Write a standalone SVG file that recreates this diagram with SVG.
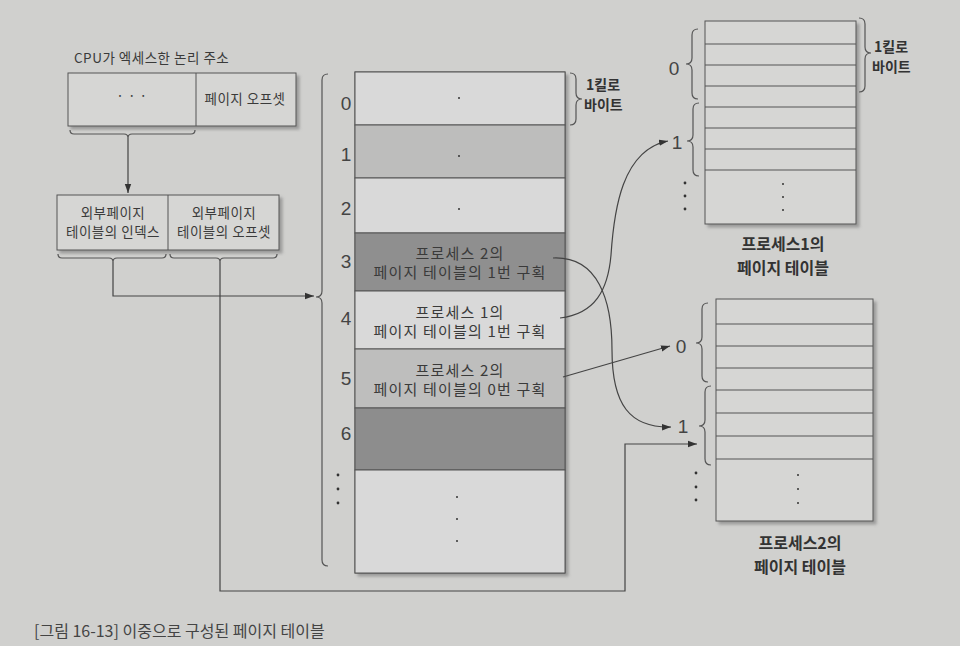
<svg xmlns="http://www.w3.org/2000/svg" width="960" height="646" viewBox="0 0 960 646">
<defs>
<marker id="ah" markerWidth="10" markerHeight="8" refX="9" refY="4" orient="auto" markerUnits="userSpaceOnUse">
<path d="M0,0.8 L9,4 L0,7.2 Z" fill="#333"/>
</marker>
<filter id="sh" x="-10%" y="-10%" width="120%" height="120%">
<feDropShadow dx="3" dy="3" stdDeviation="1.5" flood-color="#777" flood-opacity="0.6"/>
</filter>
<style>
text{font-family:"Noto Sans CJK KR","Noto Sans",sans-serif;fill:#3a3a3a}
.t{font-size:13.5px;letter-spacing:0.5px}
.r{font-size:15px;letter-spacing:1.2px;text-anchor:middle}
.n{font-family:"Liberation Sans","Noto Sans",sans-serif;font-size:19px;text-anchor:middle;fill:#444}
.b{font-size:14px;font-weight:bold;fill:#333}
.cap{font-size:16px;font-weight:bold;text-anchor:middle;fill:#333}
.box{fill:#d6d6d4;stroke:#555;stroke-width:1}
.ln{fill:none;stroke:#444;stroke-width:1.2}
.br{fill:none;stroke:#555;stroke-width:1.2}
.dot{fill:#333}
.row{stroke:#555;stroke-width:1}
</style>
</defs>
<rect width="960" height="646" fill="#d0d0ce"/>

<g id="cpu-address">
<text class="t" x="74" y="63">CPU가 엑세스한 논리 주소</text>
<rect class="box" x="68" y="73" width="228" height="53" filter="url(#sh)"/>
<line class="row" x1="196" y1="73" x2="196" y2="126"/>
<text class="t" x="132" y="101" text-anchor="middle">·  ·  ·</text>
<text class="t" x="245" y="104" text-anchor="middle">페이지 오프셋</text>
<path class="br" d="M70,130 Q70,134 74,134 L124,134 Q128,134 128,138 Q128,134 132,134 L191,134 Q195,134 195,130"/>
</g>

<g id="outer-table-address">
<rect class="box" x="57" y="195" width="222" height="55" filter="url(#sh)"/>
<line class="row" x1="168" y1="195" x2="168" y2="250"/>
<text class="t" x="113" y="218" text-anchor="middle">외부페이지</text>
<text class="t" x="113" y="237" text-anchor="middle">테이블의 인덱스</text>
<text class="t" x="224" y="218" text-anchor="middle">외부페이지</text>
<text class="t" x="224" y="237" text-anchor="middle">테이블의 오프셋</text>
<path class="br" d="M58,254 Q58,258 62,258 L109,258 Q113,258 113,262 Q113,258 117,258 L162,258 Q166,258 166,254"/>
<path class="br" d="M170,254 Q170,258 174,258 L216,258 Q220,258 220,262 Q220,258 224,258 L273,258 Q277,258 277,254"/>
</g>

<g id="memory">
<path class="br" d="M328,74 Q322,74 322,80 L322,291 Q322,297 316,297 Q322,297 322,303 L322,560 Q322,566 328,566"/>
<g filter="url(#sh)">
<rect x="355" y="72" width="210" height="501" fill="#d9d9d9" stroke="#555"/>
</g>
<rect x="355" y="72" width="210" height="53" fill="#d9d9d9" class="row"/>
<rect x="355" y="125" width="210" height="53" fill="#bdbdbc" class="row"/>
<rect x="355" y="178" width="210" height="55" fill="#d9d9d9" class="row"/>
<rect x="355" y="233" width="210" height="58" fill="#8f8f8f" class="row"/>
<rect x="355" y="291" width="210" height="58" fill="#d9d9d9" class="row"/>
<rect x="355" y="349" width="210" height="59" fill="#bebebd" class="row"/>
<rect x="355" y="408" width="210" height="62" fill="#8d8d8d" class="row"/>
<rect x="355" y="470" width="210" height="103" fill="#d9d9d9" class="row"/>
<circle class="dot" cx="459" cy="98" r="1"/>
<circle class="dot" cx="459" cy="156" r="1"/>
<circle class="dot" cx="459" cy="209" r="1"/>
<circle class="dot" cx="457" cy="497" r="1"/>
<circle class="dot" cx="457" cy="519" r="1"/>
<circle class="dot" cx="457" cy="541" r="1"/>
<text class="r" x="460" y="259">프로세스 2의</text>
<text class="r" x="460" y="278">페이지 테이블의 1번 구획</text>
<text class="r" x="460" y="318">프로세스 1의</text>
<text class="r" x="460" y="337">페이지 테이블의 1번 구획</text>
<text class="r" x="460" y="376">프로세스 2의</text>
<text class="r" x="460" y="395">페이지 테이블의 0번 구획</text>
<text class="n" x="346" y="110">0</text>
<text class="n" x="346" y="161">1</text>
<text class="n" x="346" y="215">2</text>
<text class="n" x="346" y="268">3</text>
<text class="n" x="346" y="325">4</text>
<text class="n" x="346" y="385">5</text>
<text class="n" x="346" y="440">6</text>
<circle class="dot" cx="338" cy="475" r="1.4"/>
<circle class="dot" cx="338" cy="489" r="1.4"/>
<circle class="dot" cx="338" cy="503" r="1.4"/>
<path class="br" d="M570,73 Q576,73 576,79 L576,93 Q576,99 582,99 Q576,99 576,105 L576,119 Q576,125 570,125"/>
<text class="b" x="586" y="90">1킬로</text>
<text class="b" x="584" y="110">바이트</text>
</g>

<g id="page-table-1">
<rect class="box" x="705" y="21" width="151" height="203" filter="url(#sh)"/>
<line class="row" x1="705" y1="44" x2="856" y2="44"/>
<line class="row" x1="705" y1="65" x2="856" y2="65"/>
<line class="row" x1="705" y1="86" x2="856" y2="86"/>
<line class="row" x1="705" y1="107" x2="856" y2="107"/>
<line class="row" x1="705" y1="128" x2="856" y2="128"/>
<line class="row" x1="705" y1="149" x2="856" y2="149"/>
<line class="row" x1="705" y1="170" x2="856" y2="170"/>
<circle class="dot" cx="783" cy="184" r="1"/>
<circle class="dot" cx="783" cy="197" r="1"/>
<circle class="dot" cx="783" cy="210" r="1"/>
<path class="br" d="M698,29 Q692,29 692,35 L692,58 Q692,64 686,64 Q692,64 692,70 L692,93 Q692,99 698,99"/>
<path class="br" d="M699,103 Q693,103 693,109 L693,135 Q693,141 687,141 Q693,141 693,147 L693,170 Q693,176 699,176"/>
<text class="n" x="674" y="75">0</text>
<text class="n" x="677" y="149">1</text>
<circle class="dot" cx="685" cy="183" r="1.4"/>
<circle class="dot" cx="685" cy="196" r="1.4"/>
<circle class="dot" cx="685" cy="209" r="1.4"/>
<path class="br" d="M859,18 Q865,18 865,24 L865,47 Q865,53 871,53 Q865,53 865,59 L865,86 Q865,92 859,92"/>
<text class="b" x="874" y="52">1킬로</text>
<text class="b" x="872" y="72">바이트</text>
<text class="cap" x="783" y="250">프로세스1의</text>
<text class="cap" x="783" y="274">페이지 테이블</text>
</g>

<g id="page-table-2">
<rect class="box" x="716" y="299" width="157" height="222" filter="url(#sh)"/>
<line class="row" x1="716" y1="324" x2="873" y2="324"/>
<line class="row" x1="716" y1="346" x2="873" y2="346"/>
<line class="row" x1="716" y1="368" x2="873" y2="368"/>
<line class="row" x1="716" y1="390" x2="873" y2="390"/>
<line class="row" x1="716" y1="413" x2="873" y2="413"/>
<line class="row" x1="716" y1="436" x2="873" y2="436"/>
<line class="row" x1="716" y1="459" x2="873" y2="459"/>
<circle class="dot" cx="798" cy="475" r="1"/>
<circle class="dot" cx="798" cy="489" r="1"/>
<circle class="dot" cx="798" cy="503" r="1"/>
<path class="br" d="M708,303 Q702,303 702,309 L702,337 Q702,343 696,343 Q702,343 702,349 L702,376 Q702,382 708,382"/>
<path class="br" d="M711,386 Q705,386 705,392 L705,420 Q705,426 699,426 Q705,426 705,432 L705,459 Q705,465 711,465"/>
<text class="n" x="681" y="353">0</text>
<text class="n" x="683" y="433">1</text>
<circle class="dot" cx="696" cy="473" r="1.4"/>
<circle class="dot" cx="696" cy="487" r="1.4"/>
<circle class="dot" cx="696" cy="500" r="1.4"/>
<text class="cap" x="800" y="549">프로세스2의</text>
<text class="cap" x="800" y="573">페이지 테이블</text>
</g>

<g id="connectors">
<line class="ln" x1="128" y1="138" x2="128" y2="193" marker-end="url(#ah)"/>
<path class="ln" d="M113,262 V296 H314" marker-end="url(#ah)"/>
<path class="ln" d="M220,262 V591 H625 V444 H697" marker-end="url(#ah)"/>
<path class="ln" d="M553,258 C598,256 612,300 612,350 C612,405 630,428 671,427" marker-end="url(#ah)"/>
<path class="ln" d="M560,318 C595,314 608,290 611,255 C614,210 622,150 668,141" marker-end="url(#ah)"/>
<line class="ln" x1="563" y1="377" x2="670" y2="346" marker-end="url(#ah)"/>
</g>

<text x="34" y="637" style="font-size:16px;fill:#444">[그림 16-13] 이중으로 구성된 페이지 테이블</text>
</svg>
